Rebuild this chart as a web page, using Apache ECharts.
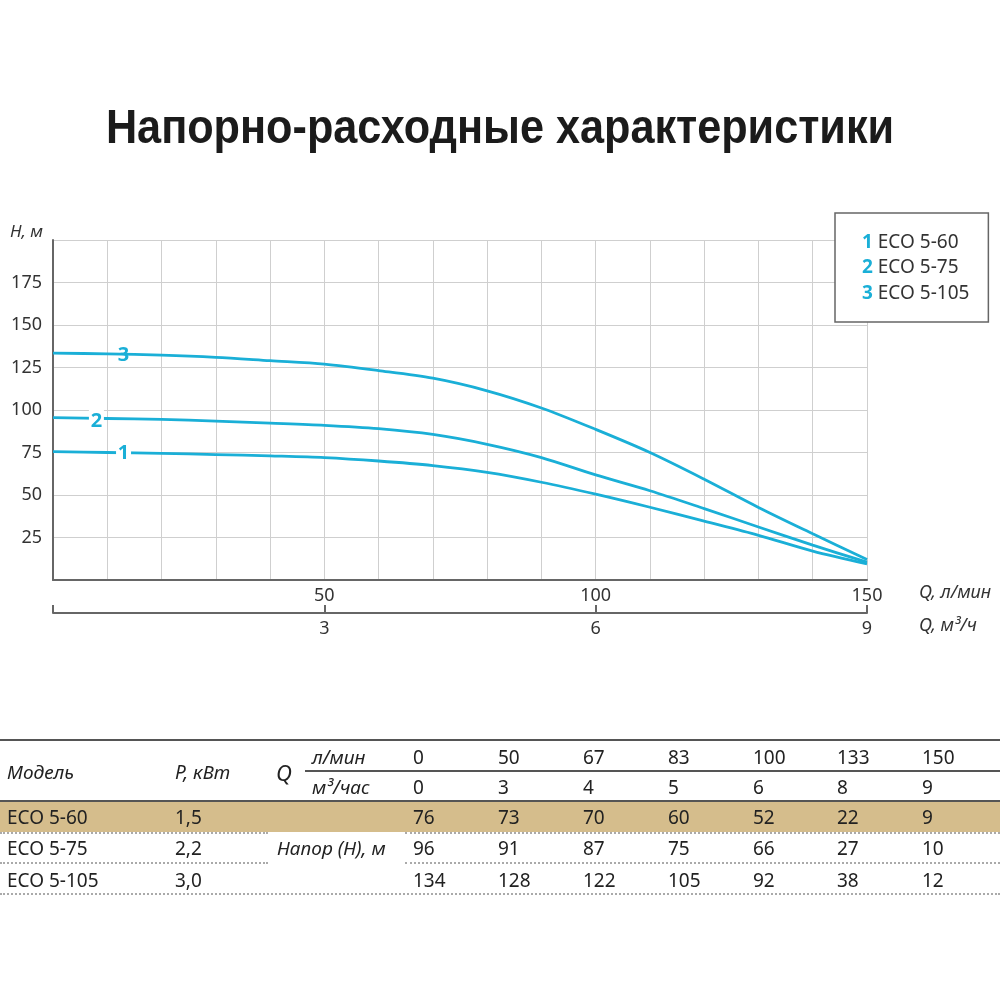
<!DOCTYPE html>
<html><head><meta charset="utf-8">
<script src="https://cdn.jsdelivr.net/npm/echarts@6/dist/echarts.min.js"></script>
<style>
html,body{margin:0;padding:0;background:#fff;}
#wrap{position:relative;width:1000px;height:1000px;}
#chart{position:absolute;left:0;top:0;width:1000px;height:1000px;}
#tbl{position:absolute;left:0;top:0;width:1000px;height:1000px;pointer-events:none;font-family:"Noto Sans",sans-serif;color:#222;font-size:19px;}
#tbl .t{position:absolute;white-space:nowrap;line-height:22px;transform:translateY(-50%);}
#tbl .i{font-style:italic;}
#tbl .r{position:absolute;}
</style></head>
<body><div id="wrap"><div id="chart"></div><div id="tbl"></div></div>
<script>
// ---- chart data, x = Q l/min ----
const flow = [0,10,20,30,40,50,60,70,80,90,100,110,120,130,140,150];
const head1 = [75.5,75,74.5,73.8,73,72,70,67.3,63.3,57.5,50.5,42.8,34.6,26.3,17,9.5];
const head2 = [95.5,95,94.5,93.5,92.3,91,89,85.6,79.8,72,61.8,52.5,42,31.2,20.5,10.5];
const head3 = [133.5,133,132.3,131,129,127,123.2,118.7,111.3,101.2,88.6,75,59.3,42.7,27.2,12];
const seriesNames = ['ECO 5-60','ECO 5-75','ECO 5-105'];
const seriesNums = ['1','2','3'];
const labelFlow = [13,8,13];
const labelHead = [75,95,133];
const yTicks = [25,50,75,100,125,150,175];
const xTicksLmin = [50,100,150];
const xTicksM3h = [3,6,9];
// ---- table data ----
const qLmin = [0,50,67,83,100,133,150];
const qM3h = [0,3,4,5,6,8,9];
const models = ['ECO 5-60','ECO 5-75','ECO 5-105'];
const power = ['1,5','2,2','3,0'];
const headTable = [[76,73,70,60,52,22,9],[96,91,87,75,66,27,10],[134,128,122,105,92,38,12]];

const CY = '#1aafd7';
const FONT = '"Noto Sans", sans-serif';
const heads = [head1, head2, head3];

const chart = echarts.init(document.getElementById('chart'), null, {renderer:'canvas'});
const series = heads.map((h, k) => ({
  name: seriesNames[k],
  type: 'line',
  smooth: 0.3,
  symbol: 'none',
  data: flow.map((f, i) => [f, h[i]]),
  lineStyle: {color: CY, width: 2.8},
  itemStyle: {color: CY},
  z: 3 + k,
  markPoint: {
    symbol: 'rect',
    symbolSize: [15, 20],
    itemStyle: {color: '#fff'},
    label: {show: true, formatter: seriesNums[k], color: CY, fontWeight: 'bold', fontSize: 20, fontFamily: FONT, offset: [0, k === 1 ? 3 : 1]},
    data: [{coord: [labelFlow[k], labelHead[k]]}]
  }
}));

chart.setOption({
  animation: false,
  legend: {
    orient: 'vertical',
    left: 835, top: 213,
    padding: [19, 19, 18, 22],
    itemGap: 4.5,
    itemWidth: 0, itemHeight: 0,
    icon: 'rect',
    borderColor: '#666', borderWidth: 1.5,
    backgroundColor: '#fff',
    selectedMode: false,
    data: seriesNames,
    formatter: n => '{n|' + seriesNums[seriesNames.indexOf(n)] + '} ' + n,
    textStyle: {fontFamily: FONT, fontSize: 19, color: '#333', lineHeight: 21,
      rich: {n: {color: CY, fontWeight: 'bold', fontSize: 19, fontFamily: FONT, lineHeight: 21}}}
  },
  grid: {left: 53, right: 133, top: 240, bottom: 420, containLabel: false},
  xAxis: [
    {type: 'value', min: 0, max: 150, interval: 10, position: 'bottom',
     axisLine: {show: true, onZero: false, lineStyle: {color: '#666', width: 2}},
     axisTick: {show: false},
     splitLine: {show: true, lineStyle: {color: '#cfcfcf', width: 1}},
     axisLabel: {margin: 7, fontFamily: FONT, fontSize: 18, color: '#333',
       formatter: v => xTicksLmin.indexOf(v) >= 0 ? String(v) : ''}},
    {type: 'value', min: 0, max: 9, interval: 3, position: 'bottom', offset: 33,
     axisLine: {show: true, onZero: false, lineStyle: {color: '#666', width: 2}},
     axisTick: {show: true, inside: true, length: 8, lineStyle: {color: '#666', width: 2}},
     splitLine: {show: false},
     axisLabel: {margin: 7, fontFamily: FONT, fontSize: 18, color: '#333',
       formatter: v => xTicksM3h.indexOf(v) >= 0 ? String(v) : ''}}
  ],
  yAxis: {type: 'value', min: 0, max: 200, interval: 25,
    axisLine: {show: true, lineStyle: {color: '#666', width: 2}},
    axisTick: {show: false},
    splitLine: {show: true, lineStyle: {color: '#cfcfcf', width: 1}},
    axisLabel: {margin: 11, fontFamily: FONT, fontSize: 18, color: '#333',
      formatter: v => yTicks.indexOf(v) >= 0 ? String(v) : ''}},
  graphic: [
    {type: 'text', x: 500, y: 130, scaleX: 0.9, originX: 0, originY: 0,
     style: {text: 'Напорно-расходные характеристики', font: 'bold 48px "Liberation Sans", sans-serif', fill: '#1b1b1b', align: 'center', verticalAlign: 'middle'}},
    {type: 'text', left: 10, top: 224, style: {text: 'H, м', font: 'italic 17px ' + FONT, fill: '#333'}},
    {type: 'text', left: 919, top: 584, style: {text: 'Q, л/мин', font: 'italic 18px ' + FONT, fill: '#333'}},
    {type: 'text', left: 919, top: 617, style: {text: 'Q, м³/ч', font: 'italic 18px ' + FONT, fill: '#333'}}
  ],
  series: series
});

// ---- table ----
const tbl = document.getElementById('tbl');
function txt(s, x, y, cls, extra) {
  const d = document.createElement('div');
  d.className = 't ' + (cls || '');
  d.style.left = x + 'px'; d.style.top = y + 'px';
  if (extra) Object.assign(d.style, extra);
  d.textContent = s; tbl.appendChild(d);
}
function rule(x, y, w, h, css) {
  const d = document.createElement('div');
  d.className = 'r';
  d.style.left = x + 'px'; d.style.top = y + 'px'; d.style.width = w + 'px'; d.style.height = h + 'px';
  Object.assign(d.style, css); tbl.appendChild(d);
}
const colX = [413, 498, 583, 668, 753, 837, 922];
const rowY = [817, 848, 880];
rule(0, 802, 1000, 30, {background: '#d5bd8c'});
rule(0, 739, 1000, 2, {background: '#555'});
rule(305, 770, 695, 2, {background: '#555'});
rule(0, 800, 1000, 2, {background: '#555'});
rule(0, 832, 268, 0, {borderTop: '2px dotted #aaa'});
rule(405, 832, 595, 0, {borderTop: '2px dotted #aaa'});
rule(0, 862, 268, 0, {borderTop: '2px dotted #aaa'});
rule(405, 862, 595, 0, {borderTop: '2px dotted #aaa'});
rule(0, 893, 1000, 0, {borderTop: '2px dotted #aaa'});
txt('Модель', 7, 772, 'i');
txt('P, кВт', 175, 772, 'i');
txt('Q', 276, 772, 'i', {fontSize: '22px'});
txt('л/мин', 312, 757, 'i');
txt('м³/час', 312, 787, 'i');
txt('Напор (Н), м', 277, 848, 'i');
qLmin.forEach((v, i) => txt(String(v), colX[i], 757));
qM3h.forEach((v, i) => txt(String(v), colX[i], 787));
models.forEach((m, r) => {
  txt(m, 7, rowY[r]);
  txt(power[r], 175, rowY[r]);
  headTable[r].forEach((v, i) => txt(String(v), colX[i], rowY[r]));
});
</script></body></html>
